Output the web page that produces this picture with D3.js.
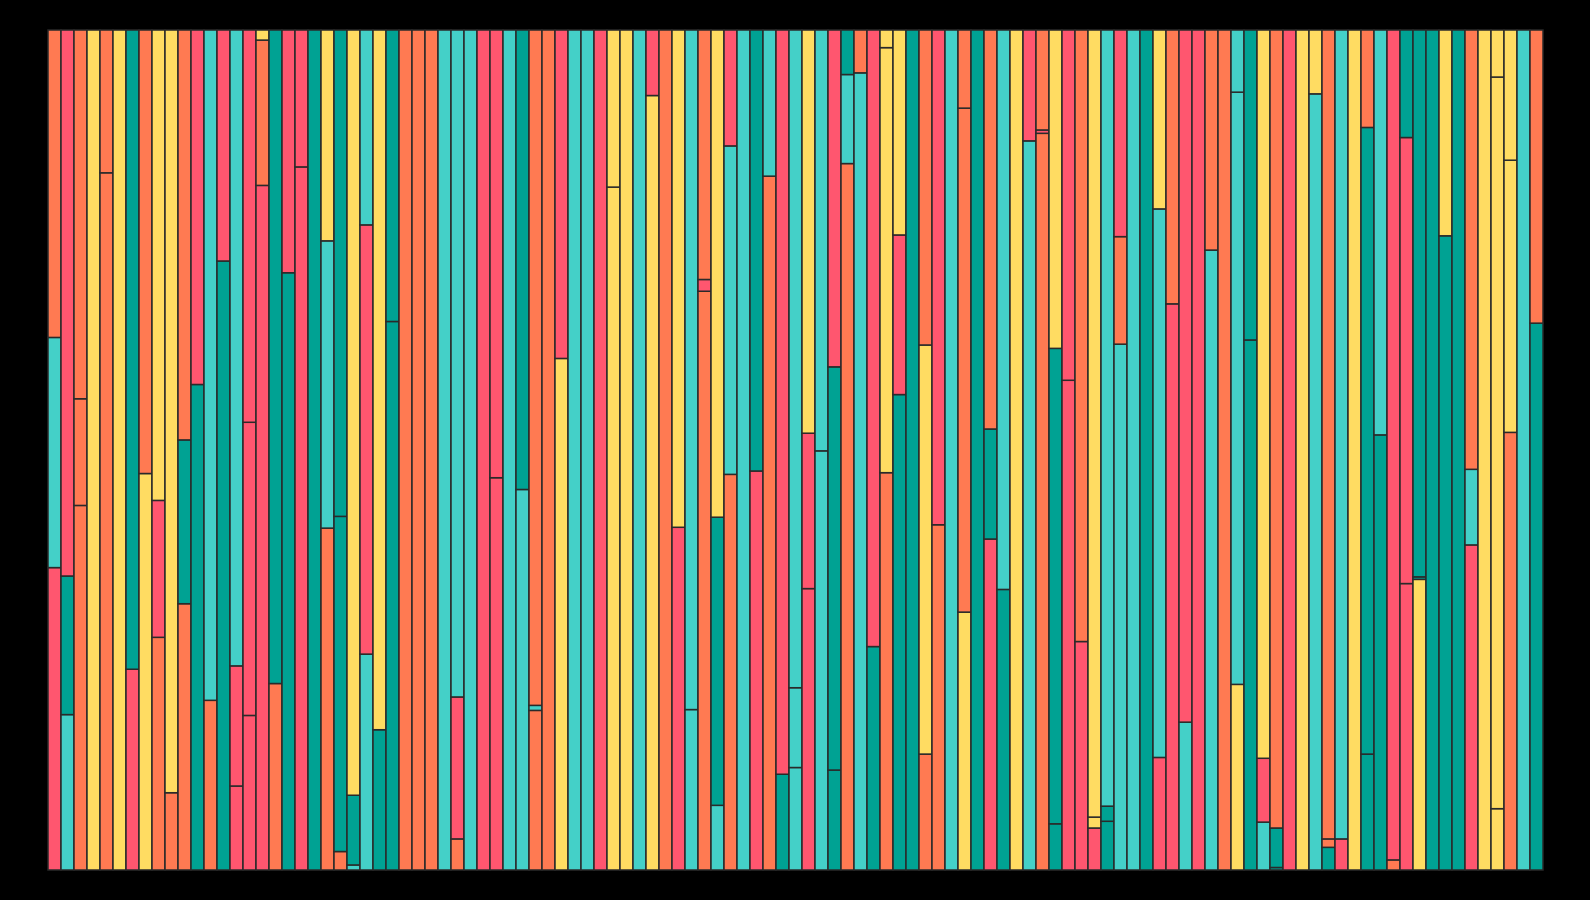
<!DOCTYPE html>
<html><head><meta charset="utf-8">
<script src="https://cdn.jsdelivr.net/npm/d3@7"></script>
<style>html,body{margin:0;padding:0;background:#000;overflow:hidden;}</style>
</head><body>
<svg id="chart" width="1590" height="900"></svg>
<script>
// One entry per bar: segment shares, bottom to top
const segmentValues = [
 [.36,.274,.366],[.185,.165,.65],[.434,.127,.439],[1],[.83,.17],[1],[.239,.761],[.472,.528],[.277,.163,.56],[.092,.908],
 [.317,.195,.488],[.578,.422],[.202,.798],[.725,.275],[.1,.143,.757],[.184,.349,.467],[.815,.173,.012],[.222,.778],[.711,.289],[.837,.163],
 [1],[.407,.342,.251],[.022,.399,.579],[.006,.083,.911],[.257,.511,.232],[.167,.833],[.653,.347],[1],[1],[1],
 [1],[.037,.169,.794],[1],[1],[.467,.533],[1],[.453,.547],[.19,.006,.804],[1],[.609,.391],
 [1],[1],[1],[.813,.187],[1],[1],[.922,.078],[1],[.408,.592],[.191,.809],
 [.689,.014,.297],[.077,.343,.58],[.471,.391,.138],[1],[.475,.525],[.826,.174],[.114,.886],[.122,.095,.783],[.335,.185,.48],[.499,.501],
 [.119,.48,.401],[.841,.106,.053],[.949,.051],[.266,.734],[.473,.506,.021],[.566,.19,.244],[1],[.138,.487,.375],[.411,.589],[1],
 [.307,.6,.093],[1],[.394,.131,.475],[.334,.666],[1],[.868,.132],[.877,.004,.119],[.055,.566,.379],[.583,.417],[.272,.728],
 [.05,.013,.937],[.058,.018,.924],[.626,.128,.246],[1],[1],[.134,.653,.213],[.674,.326],[.176,.824],[1],[.738,.262],
 [1],[.221,.705,.074],[.631,.369],[.057,.076,.867],[.003,.047,.95],[1],[1],[.924,.076],[.027,.01,.963],[.037,.963],
 [1],[.138,.746,.116],[.518,.482],[.012,.988],[.341,.531,.128],[.346,.003,.651],[1],[.755,.245],[1],[.387,.09,.523],
 [1],[.073,.871,.056],[.521,.324,.155],[1],[.651,.349]
];
// Colour key for each segment (O orange, R red, Y yellow, T turquoise, G teal)
const segmentColors = [
 "RTO","TGR","OOO","Y","OO","Y","RG","YO","ORY","OY",
 "OGO","GR","OT","GR","RRT","RRR","ROY","OG","GR","RR",
 "G","OTY","OGG","TGY","TRT","GY","GG","O","O","O",
 "T","ORT","T","R","RR","T","TG","OTO","O","YR",
 "T","T","R","YY","Y","T","YR","O","RY","TT",
 "ORO","TGY","OTR","T","RG","OT","GR","TTT","RRY","TT",
 "GGR","OTG","TO","GR","OYY","GRY","G","OYO","OR","T",
 "YOO","G","RGO","GT","Y","TR","ORO","GGY","RR","RO",
 "RYY","GGT","TOR","T","G","RTY","RO","TR","R","TO",
 "O","YTT","GG","TRY","GGO","R","Y","TY","GOO","RT",
 "Y","GGO","GT","OR","RRG","YGG","G","GY","G","RTO",
 "Y","YYY","OYY","T","GO"
];
const categories = segmentValues.map((d,i)=>"Bar " + (i+1));
const palette = {O:"#ff7a52", R:"#ff566f", Y:"#ffdc62", T:"#44d0c8", G:"#00a293"};

const svg = d3.select("#chart");
svg.append("rect").attr("width",1590).attr("height",900).attr("fill","#000");

const x = d3.scaleBand().domain(categories).range([48,1543]).padding(0);
const y = d3.scaleLinear().domain([0,1]).range([870,30]);

const rects = [];
segmentValues.forEach((vals,i)=>{
  const total = d3.sum(vals);
  let acc = 0;
  vals.forEach((v,j)=>{
    const y0 = acc/total; acc += v; const y1 = acc/total;
    rects.push({cat:categories[i], y0, y1, c:segmentColors[i][j]});
  });
});

svg.append("g").selectAll("rect").data(rects).join("rect")
  .attr("x", d=>x(d.cat))
  .attr("width", x.bandwidth())
  .attr("y", d=>y(d.y1))
  .attr("height", d=>y(d.y0)-y(d.y1))
  .attr("fill", d=>palette[d.c])
  .attr("stroke", "#2a2a2a")
  .attr("stroke-width", 1.5);
</script>
</body></html>
